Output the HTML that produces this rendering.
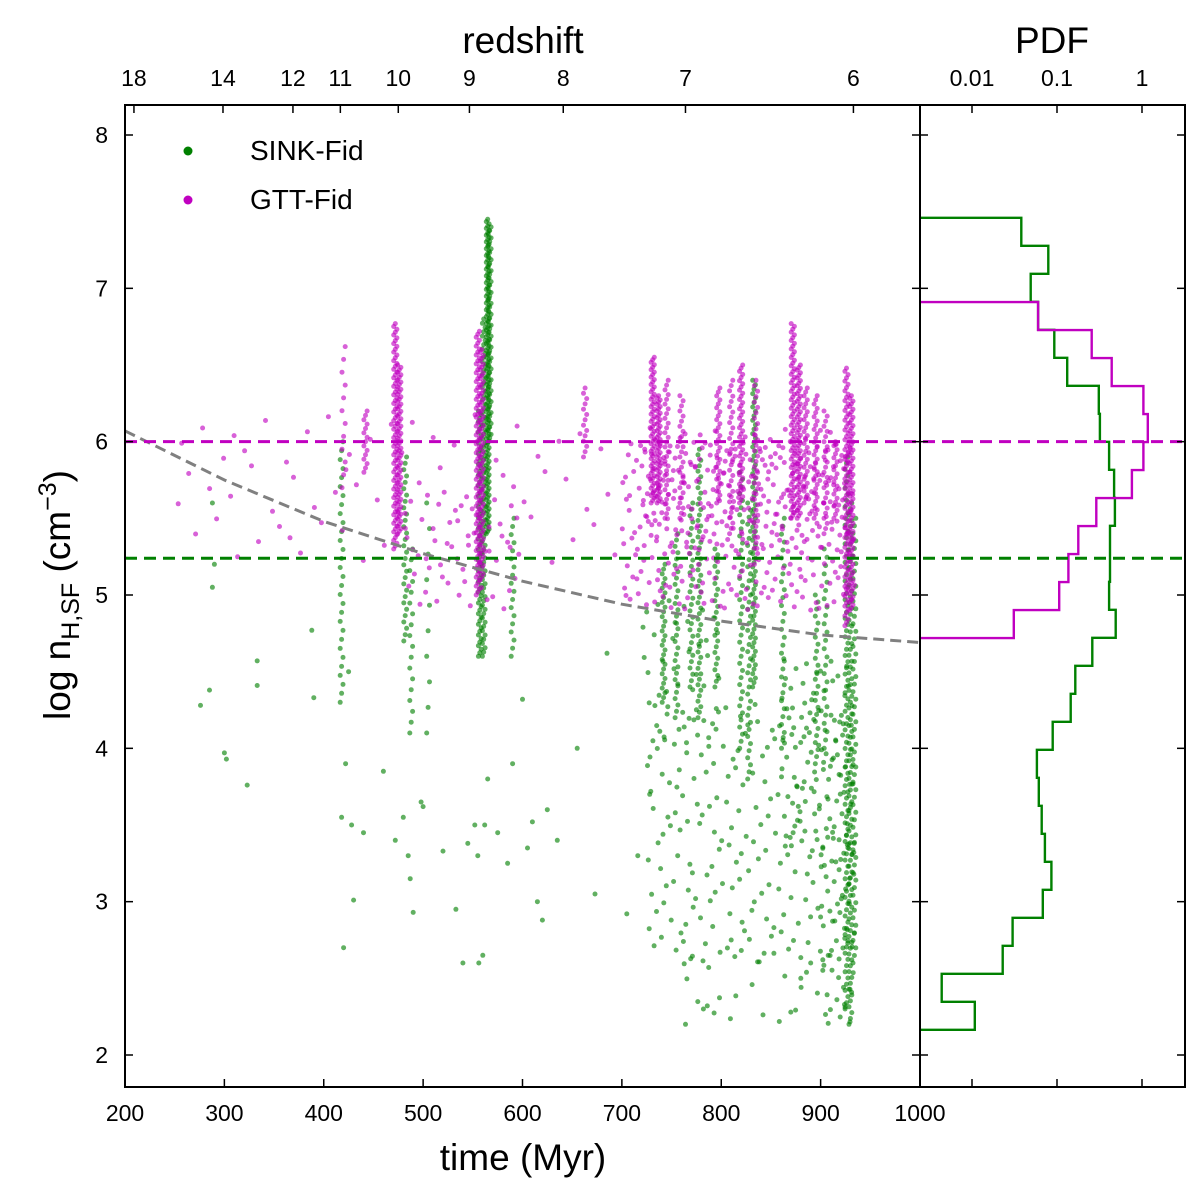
<!DOCTYPE html>
<html><head><meta charset="utf-8"><style>
body{margin:0;background:#fff}
svg{display:block;font-family:"Liberation Sans","DejaVu Sans",sans-serif}
</style></head><body>
<svg id="chart" width="1200" height="1194" viewBox="0 0 1200 1194" xmlns="http://www.w3.org/2000/svg">
<defs><clipPath id="clipMain"><rect x="125" y="105" width="795" height="982"/></clipPath>
<clipPath id="clipPdf"><rect x="920" y="105" width="265" height="982"/></clipPath></defs>
<rect x="0" y="0" width="1200" height="1194" fill="#fff"/>
<g id="scatter" clip-path="url(#clipMain)"></g>
<g id="pdf" clip-path="url(#clipPdf)"></g>
<g id="over"></g>
<g id="axes"></g>
</svg>
<script>
// ---- data ----
const yTicks=[2,3,4,5,6,7,8];
const xTicks=[200,300,400,500,600,700,800,900,1000];
const zLabels=["18","14","12","11","10","9","8","7","6"];
const zTimes=[209,298.6,369,416.7,475,546.6,641,764,933];
const pdfTickLabels=["0.01","0.1","1"];
const pdfTickVals=[0.01,0.1,1];
const curveT=[200,300,400,500,600,700,800,900,1000];
const curveV=[6.07,5.75,5.48,5.27,5.09,4.94,4.83,4.74,4.69];
const sinkThreshold=5.24, gttThreshold=6.0;
// streaks: [time, low, high, count]
const greenStreaks=[[418,4.3,6.0,30],[482,4.7,5.9,30],[488,4.1,5.3,18],[505,4.1,5.6,10],[557,4.6,6.2,70],[561,4.6,6.8,80],[565,5.4,7.45,140],[567,6.0,7.4,60],[590,4.6,5.5,18],[742,4.3,5.2,30],[755,4.2,5.4,30],[770,4.4,5.6,30],[778,4.2,5.95,50],[795,4.4,5.3,25],[820,4.0,5.8,40],[828,3.8,5.6,40],[833,4.4,6.4,70],[862,4.0,5.5,30],[896,3.9,5.0,25],[905,4.0,5.3,25],[926,2.3,5.9,90],[930,2.2,5.6,90],[934,2.6,5.5,60]];
const magStreaks=[[420,5.7,6.62,12],[442,5.8,6.2,15],[472,5.3,6.77,80],[476,5.4,6.5,70],[555,5.0,6.72,90],[559,5.1,6.6,80],[663,5.9,6.35,14],[731,5.6,6.55,60],[737,5.6,6.3,50],[745,5.5,6.4,30],[760,5.5,6.3,25],[797,5.6,6.35,30],[810,5.4,6.4,30],[820,5.6,6.5,45],[835,5.2,6.4,35],[872,5.5,6.77,70],[878,5.5,6.5,60],[885,5.6,6.35,30],[895,5.5,6.3,30],[905,5.4,6.2,25],[915,5.5,6.0,20],[926,4.8,6.48,80],[931,4.9,6.3,80]];
// clouds: [t0, t1, low, high, count]
const greenClouds=[[725,935,2.6,4.3,200],[760,935,2.2,2.7,25],[860,935,3.3,4.6,80],[720,800,4.0,5.0,40],[900,935,2.2,3.5,40]];
const magClouds=[[700,935,4.9,6.0,300],[250,700,5.2,6.2,70],[480,600,4.9,5.7,50],[720,935,5.3,6.1,120]];
// isolated green points [time, value]
const greenPoints=[[276,4.28],[285,4.38],[288,5.6],[288,5.05],[290,5.2],[300,3.97],[302,3.93],[323,3.76],[333,4.57],[333,4.41],[388,4.77],[390,4.33],[418,3.55],[420,2.7],[422,3.9],[425,4.5],[428,3.5],[430,3.01],[440,3.45],[460,3.85],[472,3.4],[480,3.55],[485,3.3],[487,3.15],[490,2.93],[498,3.65],[500,3.62],[520,3.33],[533,2.95],[540,2.6],[545,3.38],[552,3.5],[555,3.3],[556,2.6],[560,2.65],[562,3.5],[565,3.8],[575,3.45],[585,3.25],[590,3.9],[600,4.32],[605,3.35],[610,3.52],[615,3.0],[620,2.88],[625,3.6],[635,3.4],[655,4.0],[673,3.05],[685,4.62],[705,2.92],[716,3.3],[728,3.7],[764,2.2],[782,2.3],[786,2.32],[810,2.75],[870,2.28],[880,2.5],[890,2.6],[900,2.9]];
// pdf histograms
const binWidth=0.1826;
const greenTop=7.46;
const greenPdf=[0.038,0.079,0.049,0.060,0.093,0.132,0.31,0.32,0.41,0.47,0.48,0.42,0.42,0.41,0.49,0.26,0.164,0.145,0.089,0.058,0.061,0.066,0.072,0.086,0.068,0.030,0.023,0.0044,0.0108];
const magTop=6.91;
const magPdf=[0.060,0.256,0.44,1.04,1.17,1.04,0.76,0.29,0.178,0.136,0.106,0.031];

// ---- scales ----
const X=t=>125+(t-200)*0.99375;
const Y=v=>1055-(v-2)*153.333;
const PX=p=>1142+85*Math.log10(p);
const NS="http://www.w3.org/2000/svg";
function mk(tag,attrs,parent){const e=document.createElementNS(NS,tag);for(const k in attrs)e.setAttribute(k,attrs[k]);parent.appendChild(e);return e;}
function halton(i,b){let f=1,r=0;while(i>0){f/=b;r+=f*(i%b);i=Math.floor(i/b);}return r;}
const sc=document.getElementById('scatter');
const pdfG=document.getElementById('pdf');
const over=document.getElementById('over');
const ax=document.getElementById('axes');
const GREEN="#008000", MAG="#c000c0";
function dot(t,v,col,name){const c=mk('circle',{cx:X(t).toFixed(1),cy:Y(v).toFixed(1),r:2.5,fill:col,'fill-opacity':0.62},sc);

}
greenClouds.forEach(c=>{for(let i=1;i<=c[4];i++)dot(c[0]+(c[1]-c[0])*halton(i+7,2),c[2]+(c[3]-c[2])*halton(i+7,3),GREEN,'sink-point');});
greenStreaks.forEach(s=>{for(let i=0;i<s[3];i++){const f=s[3]>1?i/(s[3]-1):0;dot(s[0]+((i%3)-1)*1.4,s[1]+(s[2]-s[1])*f,GREEN,'sink-point');}});
greenPoints.forEach(p=>dot(p[0],p[1],GREEN,'sink-point'));
magClouds.forEach(c=>{for(let i=1;i<=c[4];i++)dot(c[0]+(c[1]-c[0])*halton(i,2),c[2]+(c[3]-c[2])*halton(i,3),MAG,'gtt-point');});
magStreaks.forEach(s=>{for(let i=0;i<s[3];i++){const f=s[3]>1?i/(s[3]-1):0;dot(s[0]+((i%3)-1)*1.6,s[1]+(s[2]-s[1])*f,MAG,'gtt-point');}});

// gray curve
let d='';curveT.forEach((t,i)=>{d+=(i?'L':'M')+X(t).toFixed(1)+','+Y(curveV[i]).toFixed(1);});
const cv=mk('path',{d:d,fill:'none',stroke:'#808080','stroke-width':3,'stroke-dasharray':'11,6'},over);


const hm=mk('line',{x1:125,x2:1185,y1:Y(gttThreshold),y2:Y(gttThreshold),stroke:MAG,'stroke-width':3,'stroke-dasharray':'12,7'},over);


const hg=mk('line',{x1:125,x2:1185,y1:Y(sinkThreshold),y2:Y(sinkThreshold),stroke:GREEN,'stroke-width':3,'stroke-dasharray':'12,7'},over);



function hist(vals,top,col,name){let d='M920,'+Y(top).toFixed(1);vals.forEach((p,i)=>{const y0=Y(top-i*binWidth),y1=Y(top-(i+1)*binWidth),x=PX(p);d+='L'+x.toFixed(1)+','+y0.toFixed(1)+'L'+x.toFixed(1)+','+y1.toFixed(1);});d+='L920,'+Y(top-vals.length*binWidth).toFixed(1);
const h=mk('path',{d:d,fill:'none',stroke:col,'stroke-width':2.4},pdfG);

}
hist(greenPdf,greenTop,GREEN,'sink-pdf-histogram');
hist(magPdf,magTop,MAG,'gtt-pdf-histogram');

const f1=mk('rect',{x:125,y:105,width:795,height:982,fill:'none',stroke:'#000','stroke-width':2},ax);


const f2=mk('rect',{x:920,y:105,width:265,height:982,fill:'none',stroke:'#000','stroke-width':2},ax);


function txt(x,y,s,size,anchor,name){const t=mk('text',{x:x,y:y,'font-size':size,'text-anchor':anchor,fill:'#000'},ax);t.textContent=s;

return t;}
yTicks.forEach(v=>{const y=Y(v);
mk('line',{x1:125,x2:133,y1:y,y2:y,stroke:'#000','stroke-width':1.5},ax);
mk('line',{x1:912,x2:920,y1:y,y2:y,stroke:'#000','stroke-width':1.5},ax);
mk('line',{x1:920,x2:928,y1:y,y2:y,stroke:'#000','stroke-width':1.5},ax);
mk('line',{x1:1177,x2:1185,y1:y,y2:y,stroke:'#000','stroke-width':1.5},ax);
txt(108,y+8,String(v),23,'end','y-tick-label');});
xTicks.forEach(t=>{const x=X(t);
mk('line',{x1:x,x2:x,y1:1079,y2:1087,stroke:'#000','stroke-width':1.5},ax);
txt(x,1121,String(t),23,'middle','x-tick-label');});
zTimes.forEach((t,i)=>{const x=X(t);
mk('line',{x1:x,x2:x,y1:105,y2:113,stroke:'#000','stroke-width':1.5},ax);
txt(x,86,zLabels[i],23,'middle','redshift-tick-label');});
pdfTickVals.forEach((p,i)=>{const x=PX(p);
mk('line',{x1:x,x2:x,y1:105,y2:113,stroke:'#000','stroke-width':1.5},ax);
mk('line',{x1:x,x2:x,y1:1079,y2:1087,stroke:'#000','stroke-width':1.5},ax);
txt(x,86,pdfTickLabels[i],23,'middle','pdf-tick-label');});
txt(523,53,'redshift',37,'middle','redshift-axis-title');
txt(1052,53,'PDF',37,'middle','pdf-axis-title');
txt(523,1170,'time (Myr)',37,'middle','x-axis-title');
const yl=mk('text',{x:0,y:0,'font-size':37,'text-anchor':'middle',transform:'translate(70,595) rotate(-90)',fill:'#000'},ax);


yl.innerHTML='log n<tspan font-size="25" dy="9">H,SF</tspan><tspan dy="-9"> (cm</tspan><tspan font-size="25" dy="-14">−3</tspan><tspan dy="14">)</tspan>';
const lg=mk('g',{},ax);


const d1=mk('circle',{cx:188,cy:151,r:4.5,fill:GREEN},lg);


const d2=mk('circle',{cx:188,cy:200,r:4.5,fill:MAG},lg);


txt(250,160,'SINK-Fid',28,'start','legend-entry-sink');
txt(250,209,'GTT-Fid',28,'start','legend-entry-gtt');
</script>
</body></html>
